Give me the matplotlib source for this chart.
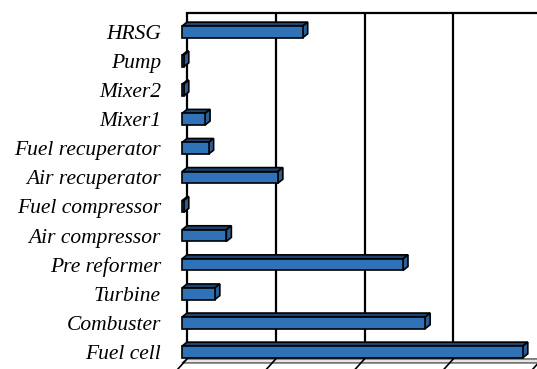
import matplotlib
matplotlib.use("Agg")
import matplotlib.pyplot as plt
from matplotlib.patches import Polygon

categories = ["Fuel cell", "Combuster", "Turbine", "Pre reformer", "Air compressor",
              "Fuel compressor", "Air recuperator", "Fuel recuperator", "Mixer1",
              "Mixer2", "Pump", "HRSG"]
values = [3.84, 2.74, 0.37, 2.49, 0.50, 0.02, 1.08, 0.30, 0.26, 0.02, 0.02, 1.36]
grid_values = [0, 1, 2, 3, 4]

W, H = 537, 369
fig = plt.figure(figsize=(W / 100, H / 100), dpi=100)
# axes pixel geometry
left_px, right_px = 182, 537
top_px, bot_px = 17.4, 366.5
ax = fig.add_axes([left_px / W, (H - bot_px) / H, (right_px - left_px) / W, (bot_px - top_px) / H])
ax.set_xlim(0, 4.0)
ax.set_ylim(-0.5, 11.5)

px_x = (right_px - left_px) / 4.0
px_y = (bot_px - top_px) / 12.0
dx = 5 / px_x
dy = 4 / px_y

y_top = 11.66
y_floor_back = -0.24
y_floor_front = y_floor_back - dy

# back wall gridlines
for g in grid_values:
    ax.plot([g + dx, g + dx], [y_floor_back, y_top], color="black", lw=1.6, zorder=1, clip_on=False,
            solid_capstyle="butt")
ax.plot([dx, 4.5], [y_top, y_top], color="black", lw=1.6, zorder=1, clip_on=False)

# floor
floor = Polygon([[0, y_floor_front], [4.5, y_floor_front], [4.5 + dx, y_floor_back], [dx, y_floor_back]],
                closed=True, facecolor="#e6e6e6", edgecolor="#555555", lw=1.0, zorder=1, clip_on=False)
ax.add_patch(floor)
tick_dx = 9 / px_x
tick_dy = 10 / px_y
for g in grid_values:
    ax.plot([g + dx, g + dx - tick_dx], [y_floor_back, y_floor_back - tick_dy], color="black", lw=1.2,
            zorder=1, clip_on=False)

# bars
h = 0.40
front_c = "#2F72B8"
top_c = "#1D4470"
side_c = "#285F98"
idx = list(range(len(categories)))
for i, v in zip(idx, values):
    top = Polygon([[0, i + h / 2], [v, i + h / 2], [v + dx, i + h / 2 + dy], [dx, i + h / 2 + dy]],
                  closed=True, facecolor=top_c, edgecolor="black", lw=1.2, zorder=3, clip_on=False)
    side = Polygon([[v, i - h / 2], [v + dx, i - h / 2 + dy], [v + dx, i + h / 2 + dy], [v, i + h / 2]],
                   closed=True, facecolor=side_c, edgecolor="black", lw=1.2, zorder=3, clip_on=False)
    ax.add_patch(top)
    ax.add_patch(side)
ax.barh(idx, values, height=h, left=0, color=front_c, edgecolor="black", lw=1.2, zorder=4, clip_on=False)

ax.set_yticks(idx)
ax.set_yticklabels(categories, family="Liberation Serif", style="italic", fontsize=15.5)
ax.tick_params(axis="y", length=0, pad=15.2)
ax.set_xticks([])
for s in ax.spines.values():
    s.set_visible(False)

fig.savefig("out.png", dpi=100)
